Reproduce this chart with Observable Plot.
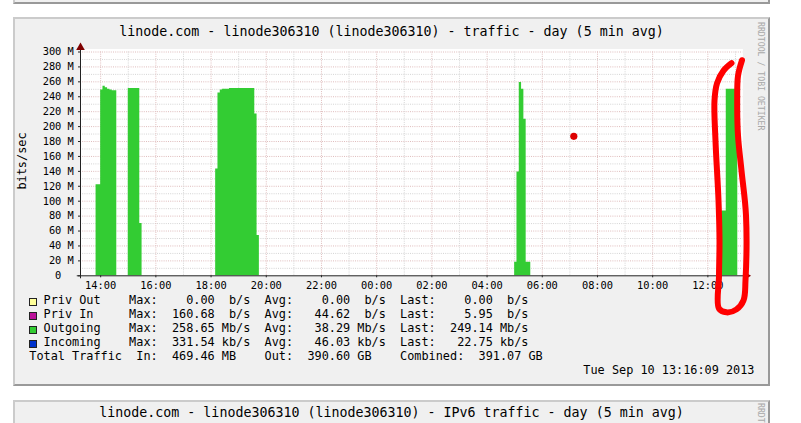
<!DOCTYPE html>
<html>
<head>
<meta charset="utf-8">
<script src="https://cdn.jsdelivr.net/npm/d3@7"></script>
<script src="https://cdn.jsdelivr.net/npm/@observablehq/plot@0.6"></script>
<style>
html,body{margin:0;padding:0;background:#fff;width:801px;height:423px;overflow:hidden;position:relative;font-family:"DejaVu Sans Mono",monospace;color:#000;}
.panel{position:absolute;left:13px;width:753px;background:#f0f0f0;border-top:2px solid #cbcbcb;border-left:2px solid #cbcbcb;border-right:2px solid #999;border-bottom:2px solid #999;}
.txt{position:absolute;white-space:pre;}
.wm{position:absolute;writing-mode:vertical-rl;font-size:8.2px;line-height:8px;color:#a8a8a8;white-space:pre;}
.box{position:absolute;width:6px;height:6px;border:1px solid #222;}
#chart{position:absolute;left:0;top:0;}
</style>
</head>
<body>
<div class="panel" style="top:-40px;height:40px;"></div>
<div class="panel" style="top:17px;height:365px;"></div>
<div class="panel" style="top:400px;height:60px;"></div>
<div id="texts"></div>
<div id="chart"></div>
<script>
// ---------- data ----------
const titleMain = "linode.com - linode306310 (linode306310) - traffic - day (5 min avg)";
const titleNext = "linode.com - linode306310 (linode306310) - IPv6 traffic - day (5 min avg)";
const unitLabel = "bits/sec";
const watermark = "RRDTOOL / TOBI OETIKER";
const stamp = "Tue Sep 10 13:16:09 2013";

const rangeStart = "2013-09-09 13:16:09";
const rangeEnd = "2013-09-10 13:16:09";

// Outgoing traffic (Mbit/s), 5-minute samples
const outTimes = [
  "2013-09-09 13:20","2013-09-09 13:50","2013-09-09 13:55","2013-09-09 14:00","2013-09-09 14:05",
  "2013-09-09 14:10","2013-09-09 14:15","2013-09-09 14:20","2013-09-09 14:25","2013-09-09 14:30",
  "2013-09-09 14:35","2013-09-09 15:00","2013-09-09 15:05","2013-09-09 15:10","2013-09-09 15:15",
  "2013-09-09 15:20","2013-09-09 15:25","2013-09-09 15:30","2013-09-09 18:10","2013-09-09 18:15",
  "2013-09-09 18:20","2013-09-09 18:25","2013-09-09 18:30","2013-09-09 18:35","2013-09-09 18:40",
  "2013-09-09 18:45","2013-09-09 18:50","2013-09-09 18:55","2013-09-09 19:00","2013-09-09 19:05",
  "2013-09-09 19:10","2013-09-09 19:15","2013-09-09 19:20","2013-09-09 19:25","2013-09-09 19:30",
  "2013-09-09 19:35","2013-09-09 19:40","2013-09-09 19:45","2013-09-10 05:00","2013-09-10 05:05",
  "2013-09-10 05:10","2013-09-10 05:15","2013-09-10 05:20","2013-09-10 05:25","2013-09-10 05:30",
  "2013-09-10 05:35","2013-09-10 12:30","2013-09-10 12:35","2013-09-10 12:40","2013-09-10 12:45",
  "2013-09-10 12:50","2013-09-10 12:55","2013-09-10 13:00","2013-09-10 13:05"
];
const outValues = [
  0,122,122,249,254,
  252,250,249,248,248,
  0,251,251,251,251,
  251,70,0,143,245,
  249,250,250,250,251,
  251,251,251,251,251,
  251,251,251,251,251,
  217,54,0,18,139,
  259,250,210,18,18,
  0,87,87,250,250,
  250,250,249,0
];

// hand-drawn red marking (in chart units)
const markTimes = [
  "2013-09-10 12:51:22","2013-09-10 12:33:59","2013-09-10 12:19:51","2013-09-10 12:14:25",
  "2013-09-10 12:16:35","2013-09-10 12:23:07","2013-09-10 12:25:17","2013-09-10 12:24:12",
  "2013-09-10 12:24:12","2013-09-10 12:40:30","2013-09-10 13:02:14","2013-09-10 13:17:28",
  "2013-09-10 13:21:48","2013-09-10 13:22:53","2013-09-10 13:13:07","2013-09-10 13:05:30",
  "2013-09-10 13:03:46","2013-09-10 13:05:30","2013-09-10 13:14:12"
];
const markValues = [285,275,258,235,181,101,47,0,-44,-49,-45,-33,-6,81,141,188,235,268,289];
const dotTime = "2013-09-10 07:08:32";
const dotValue = 187;

// legend
const legendNames = ["Priv Out","Priv In","Outgoing","Incoming"];
const legendColors = ["#ffff99","#bb1199","#33cc33","#0033cc"];
const maxVals = [0.00,160.68,258.65,331.54];
const maxUnits = [" "," ","M","k"];
const avgVals = [0.00,44.62,38.29,46.03];
const avgUnits = [" "," ","M","k"];
const lastVals = [0.00,5.95,249.14,22.75];
const lastUnits = [" "," ","M","k"];
const totalIn = [469.46,"M"];
const totalOut = [390.60,"G"];
const totalComb = [391.07,"G"];

const yTicks = [0,20,40,60,80,100,120,140,160,180,200,220,240,260,280,300];
const yMinor = [10,30,50,70,90,110,130,150,170,190,210,230,250,270,290];

// ---------- helpers ----------
const T = s => new Date(s.replace(" ", "T") + "Z");
const fmt = v => v.toFixed(2).padStart(8);

// ---------- texts ----------
const texts = document.getElementById("texts");
function addText(str, style, cls="txt") {
  const d = document.createElement("div");
  d.className = cls; d.textContent = str;
  Object.assign(d.style, style);
  texts.appendChild(d);
  return d;
}
addText(titleMain, {left:"13px", width:"757px", textAlign:"center", top:"25.3px", fontSize:"13.3px", lineHeight:"13.3px"});
addText(titleNext, {left:"13px", width:"757px", textAlign:"center", top:"406px", fontSize:"13.3px", lineHeight:"13.3px"});
addText(unitLabel, {left:"23px", top:"161px", fontSize:"11.85px", lineHeight:"11.85px", transform:"translate(-50%,-50%) rotate(-90deg)"});
addText(watermark, {left:"756.5px", top:"22px"}, "wm");
addText(watermark, {left:"756.5px", top:"403px"}, "wm");

const rows = legendNames.map((n, i) =>
  "  " + n.padEnd(12) + "Max:" + fmt(maxVals[i]) + " " + maxUnits[i] + "b/s" +
  "  Avg:" + fmt(avgVals[i]) + " " + avgUnits[i] + "b/s" +
  "  Last:" + fmt(lastVals[i]) + " " + lastUnits[i] + "b/s");
rows.push("Total Traffic  In:" + fmt(totalIn[0]) + " " + totalIn[1] + "B" +
  "    Out:" + fmt(totalOut[0]) + " " + totalOut[1] + "B" +
  "    Combined:" + fmt(totalComb[0]) + " " + totalComb[1] + "B");
addText(rows.join("\n"), {left:"29.3px", top:"293.2px", fontSize:"11.85px", lineHeight:"14px"});
legendColors.forEach((c, i) => {
  const b = document.createElement("div");
  b.className = "box";
  b.style.left = "29px";
  b.style.top = (297.5 + 14 * i) + "px";
  b.style.background = c;
  texts.appendChild(b);
});
addText(stamp, {right:"46.5px", top:"363.2px", fontSize:"11.85px", lineHeight:"14px", textAlign:"right"});

// ---------- chart ----------
const x0 = T(rangeStart), x1 = T(rangeEnd);
const outData = outTimes.map((t, i) => ({t: T(t), v: outValues[i]}));
const markData = markTimes.map((t, i) => ({t: T(t), v: markValues[i]}));
const hours = d3.utcHour.range(x0, x1);
const xMajor = hours.filter(d => d.getUTCHours() % 2 === 0);
const xMinor = hours.filter(d => d.getUTCHours() % 2 === 1);
const axisStart = d3.utcMinute.offset(x0, -6.5);
const axisEnd = d3.utcMinute.offset(x1, 7);

const chart = Plot.plot({
  width: 801, height: 423,
  marginLeft: 80, marginRight: 58.6, marginTop: 51.5, marginBottom: 147.7,
  x: {type: "utc", domain: [x0, x1], axis: null, label: null},
  y: {domain: [0, 300], axis: null, label: null},
  style: {background: "transparent", fontFamily: "DejaVu Sans Mono", color: "#000", overflow: "visible"},
  marks: [
    Plot.frame({fill: "#ffffff", stroke: null, insetTop: -3}),
    Plot.gridY(yMinor, {stroke: "#d4d4d4", strokeOpacity: 1, strokeDasharray: "1,1.2"}),
    Plot.gridY(yTicks.slice(1), {stroke: "#dfbcbc", strokeOpacity: 1, strokeDasharray: "1,1.2"}),
    Plot.gridX(xMinor, {stroke: "#d4d4d4", strokeOpacity: 1, strokeDasharray: "1,1.2"}),
    Plot.gridX(xMajor, {stroke: "#dfbcbc", strokeOpacity: 1, strokeDasharray: "1,1.2"}),
    Plot.areaY(outData, {x: "t", y: "v", curve: "step-after", fill: "#33cc33"}),
    Plot.axisY(yTicks, {label: null, tickSize: 2, tickPadding: 4.7, fontSize: 10.35, stroke: "#222",
      tickFormat: d => d === 0 ? "0\u00a0\u00a0" : d + " M"}),
    Plot.axisX(xMajor, {label: null, tickSize: 2, tickPadding: 4, fontSize: 10.35, stroke: "#222", tickFormat: d3.utcFormat("%H:%M")}),
    Plot.ruleY([0], {x1: axisStart, x2: axisEnd, stroke: "#222", strokeWidth: 1}),
    Plot.ruleX([x0], {y1: -4, y2: 304, stroke: "#222", strokeWidth: 1}),
    Plot.dot([x0], {x: d => d, y: 306, symbol: "triangle", r: 3.2, fill: "#7f0000", stroke: null}),
    Plot.dot([axisEnd], {x: d => d, y: 0, symbol: "triangle", rotate: 90, r: 3.2, fill: "#7f0000", stroke: null}),
    Plot.line(markData, {x: "t", y: "v", stroke: "#ff0000", strokeWidth: 6, curve: "catmull-rom",
      strokeLinecap: "round", strokeLinejoin: "round"}),
    Plot.dot([{t: T(dotTime), v: dotValue}], {x: "t", y: "v", r: 3.6, fill: "#dd0000", stroke: null})
  ]
});
document.getElementById("chart").appendChild(chart);
</script>
</body>
</html>
